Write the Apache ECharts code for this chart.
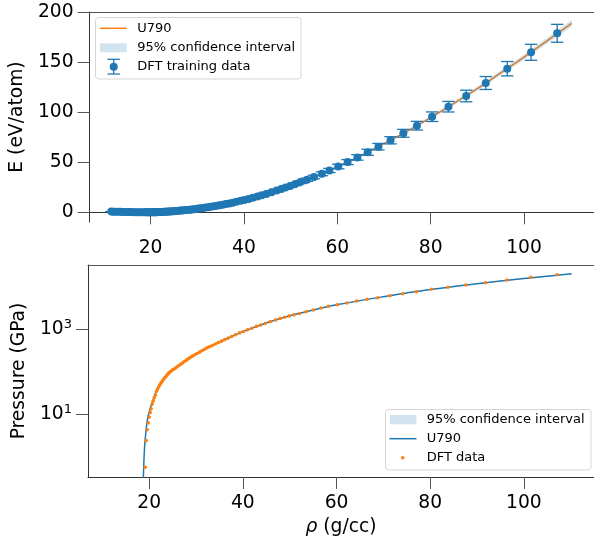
<!DOCTYPE html>
<html>
<head>
<meta charset="utf-8">
<script src="https://cdn.jsdelivr.net/npm/echarts@6/dist/echarts.min.js"></script>
<style>
html, body { margin: 0; padding: 0; background: #fff; }
#main { width: 594px; height: 541px; }
</style>
</head>
<body>
<div id="main"></div>
<script>
// DFT training points (density in g/cc)
const trainRho = [11.6, 12.0, 12.5, 13.0, 13.5, 14.0, 14.5, 15.0, 15.5, 16.0, 16.5, 17.0, 17.5, 18.0, 18.5, 18.9,
  19.15, 19.36, 19.58, 19.79, 20.0, 20.21, 20.42, 20.64, 20.86, 21.09, 21.32, 21.56, 21.8, 22.05, 22.3,
  22.56, 22.83, 23.1, 23.38, 23.67, 23.97, 24.28, 24.6, 24.93, 25.27, 25.62, 25.98, 26.35, 26.73, 27.12,
  27.52, 27.94, 28.37, 28.81, 29.27, 29.74, 30.23, 30.73, 31.25, 31.79, 32.34, 32.92, 33.51, 34.13, 34.77,
  35.44, 36.13, 36.85, 37.6, 38.4, 39.3, 40.1, 41.0, 41.9, 42.9, 43.8, 44.8, 45.9, 47.0, 48.0,
  48.9, 49.9, 50.9, 52.1, 53.5, 55.0, 56.7, 58.3, 60.2, 62.2, 64.3, 66.5, 68.8, 71.4, 74.15,
  77.05, 80.3, 83.8, 87.6, 91.8, 96.4, 101.5, 107.1];
// energy, eV/atom
const trainE = [0.70, 0.66, 0.60, 0.54, 0.48, 0.42, 0.37, 0.32, 0.27, 0.22, 0.17, 0.12, 0.08, 0.05, 0.02, 0.01,
  0.00, 0.00, 0.01, 0.01, 0.02, 0.03, 0.04, 0.06, 0.08, 0.11, 0.14, 0.18, 0.23, 0.28, 0.33,
  0.40, 0.46, 0.53, 0.61, 0.70, 0.79, 0.89, 1.00, 1.11, 1.24, 1.38, 1.52, 1.68, 1.84, 2.02,
  2.21, 2.42, 2.64, 2.88, 3.14, 3.41, 3.71, 4.03, 4.37, 4.74, 5.13, 5.56, 6.02, 6.51, 7.04,
  7.61, 8.24, 8.91, 9.65, 10.47, 11.43, 12.33, 13.39, 14.50, 15.79, 17.01, 18.41, 20.03, 21.73, 23.33,
  24.81, 26.3, 28.0, 30.2, 32.6, 35.3, 38.5, 41.8, 45.8, 50.2, 54.9, 60.0, 65.6, 72.0, 79.0,
  86.6, 95.6, 105.6, 116.3, 129.3, 143.6, 160.0, 179.0];
// error bar half heights
const trainErr = [0.04, 0.03, 0.03, 0.03, 0.02, 0.02, 0.02, 0.02, 0.01, 0.01, 0.01, 0.01, 0, 0, 0, 0,
  0, 0, 0, 0, 0, 0, 0, 0, 0, 0.01, 0.01, 0.01, 0.01, 0.01, 0.02,
  0.02, 0.02, 0.03, 0.03, 0.04, 0.04, 0.04, 0.05, 0.06, 0.06, 0.07, 0.08, 0.08, 0.09, 0.1,
  0.11, 0.12, 0.13, 0.14, 0.16, 0.17, 0.19, 0.2, 0.22, 0.24, 0.26, 0.28, 0.3, 0.33, 0.35,
  0.38, 0.41, 0.45, 0.48, 0.52, 0.57, 0.62, 0.67, 0.73, 0.79, 0.85, 0.92, 1.0, 1.09, 1.17,
  1.24, 1.32, 1.4, 1.51, 1.63, 1.77, 1.93, 2.09, 2.29, 2.51, 2.75, 3.0, 3.28, 3.6, 3.95,
  4.33, 4.78, 5.28, 5.82, 6.47, 7.18, 8.0, 8.95];
// DFT pressure, GPa (negative ones not shown on the log axis)
const dftP = [null, null, null, null, null, null, null, null, null, null, null, null, null, null, null, null,
  0.57, 2.4, 4.35, 6.3, 8.6, 11.1, 13.5, 17.4, 20.7, 24.4, 28.3, 34.8, 39.4, 44.5, 49.7,
  55.2, 61.1, 67.3, 73.8, 80.7, 88.1, 95.9, 102, 110, 115, 123, 131, 141, 151, 162,
  175, 188, 204, 219, 234, 251, 270, 290, 313, 339, 365, 391, 419, 451, 486,
  527, 571, 621, 678, 743, 822, 889, 971, 1062, 1169, 1266, 1384, 1525, 1663, 1795,
  1923, 2065, 2188, 2360, 2594, 2844, 3170, 3475, 3793, 4159, 4634, 5082, 5546, 6166, 6887,
  7674, 8730, 9727, 11015, 12470, 14450, 16750, 19280];

// U790 model, energy
const fitRho = [11.2, 14, 17, 19, 20, 22, 25, 28.5, 32, 36, 40, 45, 50, 55, 60, 65, 70, 75, 80, 85, 90, 95, 100, 105, 110.2];
const fitE = [0.75, 0.42, 0.12, 0.0, 0.02, 0.26, 1.14, 2.71, 4.89, 8.12, 12.22, 18.7, 26.47, 35.3, 45.4, 56.5, 68.6, 81.2, 94.8, 109.0, 123.7, 139.4, 155.2, 171.7, 189.0];
const ciHalfE = [0.5, 0.4, 0.35, 0.3, 0.3, 0.3, 0.35, 0.4, 0.45, 0.5, 0.55, 0.6, 0.7, 0.8, 0.9, 1.0, 1.1, 1.3, 1.5, 1.7, 2.0, 2.3, 2.6, 3.0, 3.5];

// U790 model, pressure
const fitPRho = [18.75, 18.85, 19.0, 19.15, 19.4, 19.7, 20.0, 20.4, 21, 22, 23, 24, 25, 27, 30, 33, 36, 40, 45, 50, 55, 60, 70, 80, 90, 100, 110.2];
const fitP = [0.3, 0.7, 1.6, 2.6, 5.0, 8.3, 11.5, 16, 25, 47, 66, 88, 112, 158, 261, 395, 560, 880, 1410, 2080, 2840, 3760, 5850, 8650, 11850, 15600, 20300];
const ciRelP = [0.05, 0.05, 0.04, 0.04, 0.03, 0.03, 0.03, 0.02, 0.02, 0.02, 0.02, 0.02, 0.02, 0.02, 0.02, 0.02, 0.02, 0.02, 0.02, 0.02, 0.02, 0.02, 0.02, 0.02, 0.02, 0.02, 0.02];

const xTicks = [20, 40, 60, 80, 100];
const eTicks = [0, 50, 100, 150, 200];
const pTicks = [10, 1000];

const FONT = 'DejaVu Sans';
const BLUE = '#1f77b4';
const ORANGE = '#ff7f0e';
const BAND = 'rgba(31,119,180,0.2)';

const chart = echarts.init(document.getElementById('main'), null, { renderer: 'canvas' });

function bandRender(xs, lo, hi) {
  return function (params, api) {
    if (params.dataIndex !== 0) return;
    const pts = [];
    for (let i = 0; i < xs.length; i++) pts.push(api.coord([xs[i], hi[i]]));
    for (let i = xs.length - 1; i >= 0; i--) pts.push(api.coord([xs[i], lo[i]]));
    return { type: 'polygon', shape: { points: pts }, style: { fill: BAND } };
  };
}

const eLo = fitE.map((v, i) => v - ciHalfE[i]);
const eHi = fitE.map((v, i) => v + ciHalfE[i]);
const pLo = fitP.map((v, i) => v * (1 - ciRelP[i]));
const pHi = fitP.map((v, i) => v * (1 + ciRelP[i]));

const xAxisBase = (idx) => ({
  gridIndex: idx,
  type: 'value',
  min: 6.93,
  max: 114.98,
  axisLine: { show: true, lineStyle: { color: '#333', width: 1 } },
  axisTick: { show: true, customValues: xTicks, length: 12, lineStyle: { color: '#555', width: 1 } },
  axisLabel: { customValues: xTicks, margin: 17, fontSize: 18.7, fontFamily: FONT, color: '#000' },
  splitLine: { show: false }
});
// top spine only
const spineTop = (idx) => ({
  gridIndex: idx, type: 'value', position: 'top', min: 6.93, max: 114.98,
  axisLine: { show: true, lineStyle: { color: '#555', width: 1 } },
  axisTick: { show: false }, axisLabel: { show: false }, splitLine: { show: false }
});

const topX = xAxisBase(0);
const botX = xAxisBase(1);
botX.name = '{i|ρ} (g/cc)';
botX.nameLocation = 'middle';
botX.nameGap = 41;
botX.nameTextStyle = { fontSize: 18.7, fontFamily: FONT, color: '#000',
  rich: { i: { fontStyle: 'italic', fontSize: 18.7, fontFamily: FONT, color: '#000' } } };

// legend drawn by hand (two separate legends with clashing names)
const legendText = (x, y, t) => ({ type: 'text', x: x, y: y, z: 100,
  style: { text: t, fontSize: 13, fontFamily: FONT, fill: '#000', verticalAlign: 'middle', align: 'left' } });
const legendGraphics = [
  { type: 'rect', z: 99, shape: { x: 95.5, y: 17.5, width: 205.5, height: 61.5, r: 3 },
    style: { fill: 'rgba(255,255,255,0.8)', stroke: '#d6d6d6', lineWidth: 1 } },
  { type: 'line', z: 100, shape: { x1: 100, y1: 28.3, x2: 126.7, y2: 28.3 }, style: { stroke: ORANGE, lineWidth: 1.5 } },
  legendText(137.3, 28.3, 'U790'),
  { type: 'rect', z: 100, shape: { x: 100, y: 43.3, width: 26.7, height: 9 }, style: { fill: BAND } },
  legendText(137.3, 47.7, '95% confidence interval'),
  { type: 'line', z: 100, shape: { x1: 113.7, y1: 59.3, x2: 113.7, y2: 74 }, style: { stroke: BLUE, lineWidth: 1.3 } },
  { type: 'line', z: 100, shape: { x1: 107.5, y1: 59.3, x2: 119.9, y2: 59.3 }, style: { stroke: BLUE, lineWidth: 1.3 } },
  { type: 'line', z: 100, shape: { x1: 107.5, y1: 74, x2: 119.9, y2: 74 }, style: { stroke: BLUE, lineWidth: 1.3 } },
  { type: 'circle', z: 100, shape: { cx: 113.7, cy: 66.7, r: 4 }, style: { fill: BLUE } },
  legendText(137.3, 66.7, 'DFT training data'),

  { type: 'rect', z: 99, shape: { x: 385.5, y: 409.5, width: 205.5, height: 60.5, r: 3 },
    style: { fill: 'rgba(255,255,255,0.8)', stroke: '#d6d6d6', lineWidth: 1 } },
  { type: 'rect', z: 100, shape: { x: 390, y: 415, width: 26.5, height: 9.3 }, style: { fill: BAND } },
  legendText(426.7, 420, '95% confidence interval'),
  { type: 'line', z: 100, shape: { x1: 389.5, y1: 438.7, x2: 416.5, y2: 438.7 }, style: { stroke: BLUE, lineWidth: 1.5 } },
  legendText(426.7, 438.8, 'U790'),
  { type: 'circle', z: 100, shape: { cx: 402.7, cy: 457.7, r: 1.8 }, style: { fill: ORANGE } },
  legendText(426.7, 458, 'DFT data')
];

const option = {
  animation: false,
  backgroundColor: '#fff',
  textStyle: { fontFamily: FONT },
  grid: [
    { left: 88, top: 12, width: 510, height: 210 },
    { left: 88, top: 265, width: 510, height: 212 }
  ],
  xAxis: [topX, botX, spineTop(0), spineTop(1)],
  yAxis: [
    {
      gridIndex: 0, type: 'value', min: -9.7, max: 200.3,
      name: 'E (eV/atom)', nameLocation: 'middle', nameGap: 53, nameRotate: 90,
      nameTextStyle: { fontSize: 18.7, fontFamily: FONT, color: '#000' },
      axisLine: { show: true, lineStyle: { color: '#333', width: 1 } },
      axisTick: { show: true, customValues: eTicks, length: 12, lineStyle: { color: '#555', width: 1 } },
      axisLabel: { customValues: eTicks, margin: 16, fontSize: 18.7, fontFamily: FONT, color: '#000' },
      splitLine: { show: false }
    },
    {
      gridIndex: 1, type: 'log', logBase: 10, min: 0.335, max: 32580,
      name: 'Pressure (GPa)', nameLocation: 'middle', nameGap: 51, nameRotate: 90,
      nameTextStyle: { fontSize: 18.7, fontFamily: FONT, color: '#000' },
      axisLine: { show: true, lineStyle: { color: '#333', width: 1 } },
      axisTick: { show: true, customValues: pTicks, length: 12, lineStyle: { color: '#555', width: 1 } },
      axisLabel: {
        customValues: pTicks, margin: 16, fontFamily: FONT, color: '#000',
        formatter: v => '{b|10}{s|' + Math.round(Math.log10(v)) + '}',
        rich: {
          b: { fontSize: 18.7, lineHeight: 23, fontFamily: FONT, color: '#000' },
          s: { fontSize: 13, lineHeight: 13, padding: [0, 0, 10, 0], fontFamily: FONT, color: '#000' }
        }
      },
      minorTick: { show: false },
      splitLine: { show: false }
    }
  ],
  graphic: legendGraphics,
  series: [
    {
      name: 'U790', type: 'line', xAxisIndex: 0, yAxisIndex: 0, z: 2,
      data: fitRho.map((r, i) => [r, fitE[i]]),
      showSymbol: false, smooth: 0.4,
      lineStyle: { color: ORANGE, width: 1.5 }
    },
    {
      name: '95% confidence interval', type: 'custom', xAxisIndex: 0, yAxisIndex: 0, z: 3, clip: true,
      data: fitRho.map((r, i) => [r, fitE[i]]),
      renderItem: bandRender(fitRho, eLo, eHi)
    },
    {
      name: 'DFT training data (err)', type: 'custom', xAxisIndex: 0, yAxisIndex: 0, z: 4, clip: true,
      data: trainRho.map((r, i) => [r, trainE[i], trainErr[i]]),
      renderItem: (params, api) => {
        const x = api.value(0), y = api.value(1), e = api.value(2);
        const hi = api.coord([x, y + e]);
        const lo = api.coord([x, y - e]);
        const st = { stroke: BLUE, lineWidth: 1.3 };
        return {
          type: 'group', children: [
            { type: 'line', shape: { x1: hi[0], y1: hi[1], x2: lo[0], y2: lo[1] }, style: st },
            { type: 'line', shape: { x1: hi[0] - 6.2, y1: hi[1], x2: hi[0] + 6.2, y2: hi[1] }, style: st },
            { type: 'line', shape: { x1: lo[0] - 6.2, y1: lo[1], x2: lo[0] + 6.2, y2: lo[1] }, style: st }
          ]
        };
      }
    },
    {
      name: 'DFT training data', type: 'scatter', xAxisIndex: 0, yAxisIndex: 0, z: 5,
      data: trainRho.map((r, i) => [r, trainE[i]]),
      symbol: 'circle', symbolSize: 8,
      itemStyle: { color: BLUE, opacity: 1 }
    },
    {
      name: 'P band', type: 'custom', xAxisIndex: 1, yAxisIndex: 1, z: 2, clip: true,
      data: fitPRho.map((r, i) => [r, fitP[i]]),
      renderItem: bandRender(fitPRho, pLo, pHi)
    },
    {
      name: 'U790 P', type: 'line', xAxisIndex: 1, yAxisIndex: 1, z: 3, clip: true,
      data: fitPRho.map((r, i) => [r, fitP[i]]),
      showSymbol: false, smooth: 0.4,
      lineStyle: { color: BLUE, width: 1.5 }
    },
    {
      name: 'DFT data', type: 'scatter', xAxisIndex: 1, yAxisIndex: 1, z: 4,
      data: trainRho.map((r, i) => [r, dftP[i]]).filter(d => d[1] != null),
      symbol: 'circle', symbolSize: 3.6,
      itemStyle: { color: ORANGE, opacity: 1 }
    }
  ]
};

chart.setOption(option);
</script>
</body>
</html>
